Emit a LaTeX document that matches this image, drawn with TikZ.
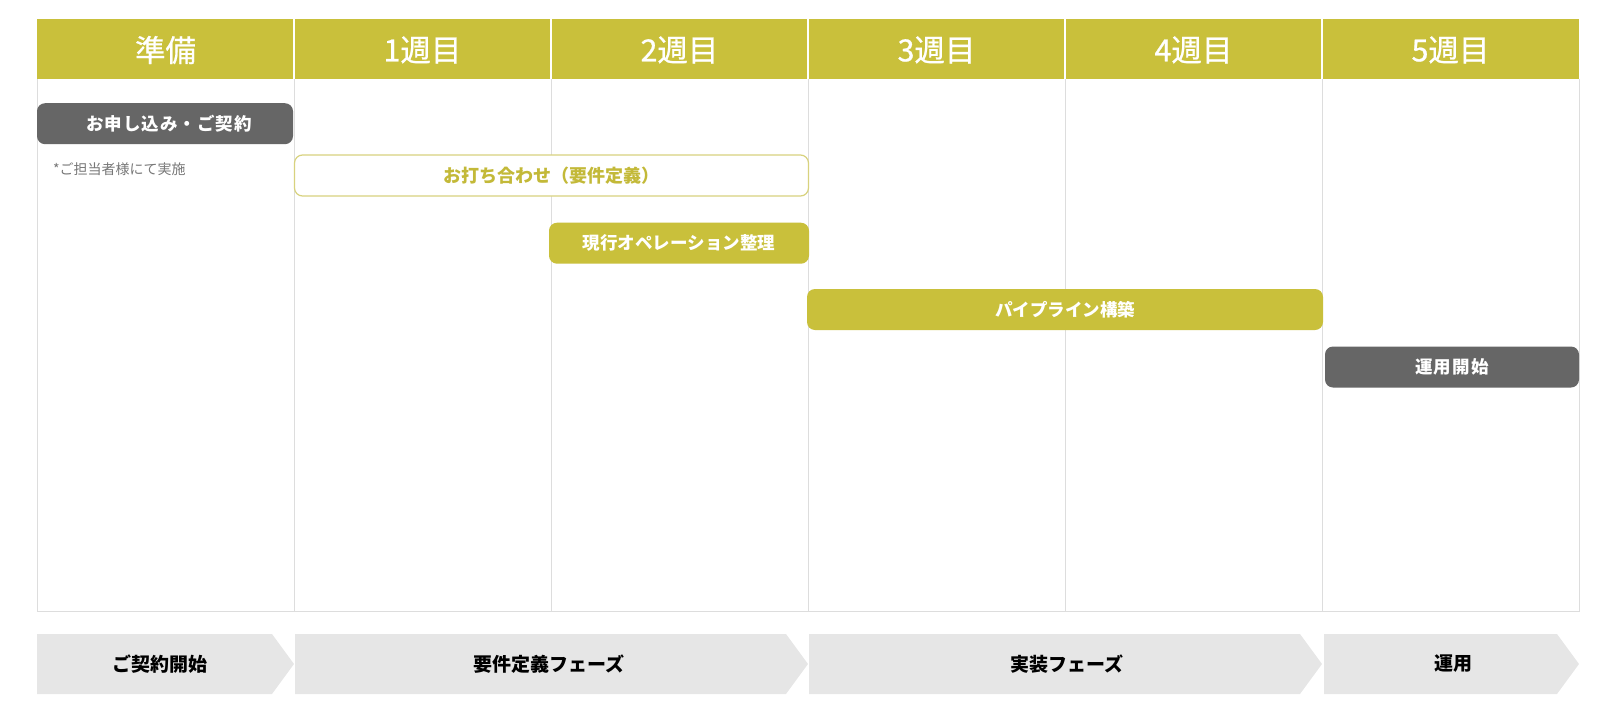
\documentclass[tikz,border=0pt]{standalone}
\usepackage{fontspec}
\setmainfont{Noto Sans CJK JP}
\newfontfamily\hdrfont[FakeBold=0.7]{Noto Sans CJK JP}
\newfontfamily\wideboxfont[LetterSpace=6]{Noto Sans CJK JP}
\definecolor{hdrcol}{HTML}{C9C03B}
\definecolor{hdrline}{HTML}{D8D27E}
\definecolor{oltext}{HTML}{C3B938}
\definecolor{gridcol}{HTML}{DDDDDD}
\definecolor{darkbox}{HTML}{666666}
\definecolor{arrowcol}{HTML}{E6E6E6}
\definecolor{notecol}{HTML}{777777}
\tikzset{
  hdrtext/.style={text=white, font=\hdrfont\fontsize{30.5}{31}\selectfont, inner sep=0},
  barbase/.style={rounded corners=8pt, inner sep=0, font=\bfseries\fontsize{17.5}{18}\selectfont, minimum height=41pt},
  greybar/.style={barbase, fill=darkbox, text=white, font=\wideboxfont\bfseries\fontsize{17.5}{18}\selectfont},
  olivebar/.style={barbase, fill=hdrcol, text=white},
  outlinebar/.style={barbase, fill=white, draw=hdrline, line width=1.2pt, text=oltext, font=\bfseries\fontsize{18}{18}\selectfont},
  notetext/.style={text=notecol, font=\fontsize{14}{14}\selectfont, inner sep=0, anchor=west},
  phase/.style={fill=arrowcol},
  phasetext/.style={font=\bfseries\fontsize{19}{19}\selectfont, inner sep=0}
}
\begin{document}
\begin{tikzpicture}[x=1pt,y=-1pt]
\useasboundingbox (0,0) rectangle (1607,718);
% table frame
\fill[white] (37,19.3) rectangle (1579,611);
\fill[hdrcol] (37,19.3) rectangle (1579,79.3);
\foreach \xx in {294,551,808,1065,1322} {
  \draw[gridcol, line width=1pt] (\xx,79.3) -- (\xx,611);
  \draw[white, line width=1.6pt] (\xx,19.3) -- (\xx,79.3);
}
\draw[gridcol, line width=1pt] (37,79.3) -- (37,611) -- (1579,611) -- (1579,79.3);
% headers
\node[hdrtext] (h0) at (165.5,50) {準備};
\node[hdrtext] (h1) at (422.5,50) {1週目};
\node[hdrtext] (h2) at (679.5,50) {2週目};
\node[hdrtext] (h3) at (936.5,50) {3週目};
\node[hdrtext] (h4) at (1193.5,50) {4週目};
\node[hdrtext] (h5) at (1450.5,50) {5週目};
% task bars
\node[greybar, minimum width=256pt] (contract) at (165,123.7) {\hspace*{8pt}お申し込み・ご契約};
\node[notetext] (note) at (53,169) {*ご担当者様にて実施};
\node[outlinebar, minimum width=514pt] (meeting) at (551.5,175.5) {お打ち合わせ（要件定義）};
\node[olivebar, minimum width=260pt] (ops) at (679,243.2) {現行オペレーション整理};
\node[olivebar, minimum width=516pt] (pipe) at (1065,309.5) {パイプライン構築};
\node[greybar, minimum width=254pt] (launch) at (1452,367) {運用開始};
% phase arrows
\fill[phase] (37,634) -- (272,634) -- (294,664) -- (272,694) -- (37,694) -- cycle;
\fill[phase] (295,634) -- (786,634) -- (808,664) -- (786,694) -- (295,694) -- cycle;
\fill[phase] (809,634) -- (1300,634) -- (1322,664) -- (1300,694) -- (809,694) -- cycle;
\fill[phase] (1324,634) -- (1557,634) -- (1579,664) -- (1557,694) -- (1324,694) -- cycle;
\node[phasetext] (p1) at (160,664) {ご契約開始};
\node[phasetext] (p2) at (549,664) {要件定義フェーズ};
\node[phasetext] (p3) at (1067,664) {実装フェーズ};
\node[phasetext] (p4) at (1453,664) {運用};
\end{tikzpicture}
\end{document}
